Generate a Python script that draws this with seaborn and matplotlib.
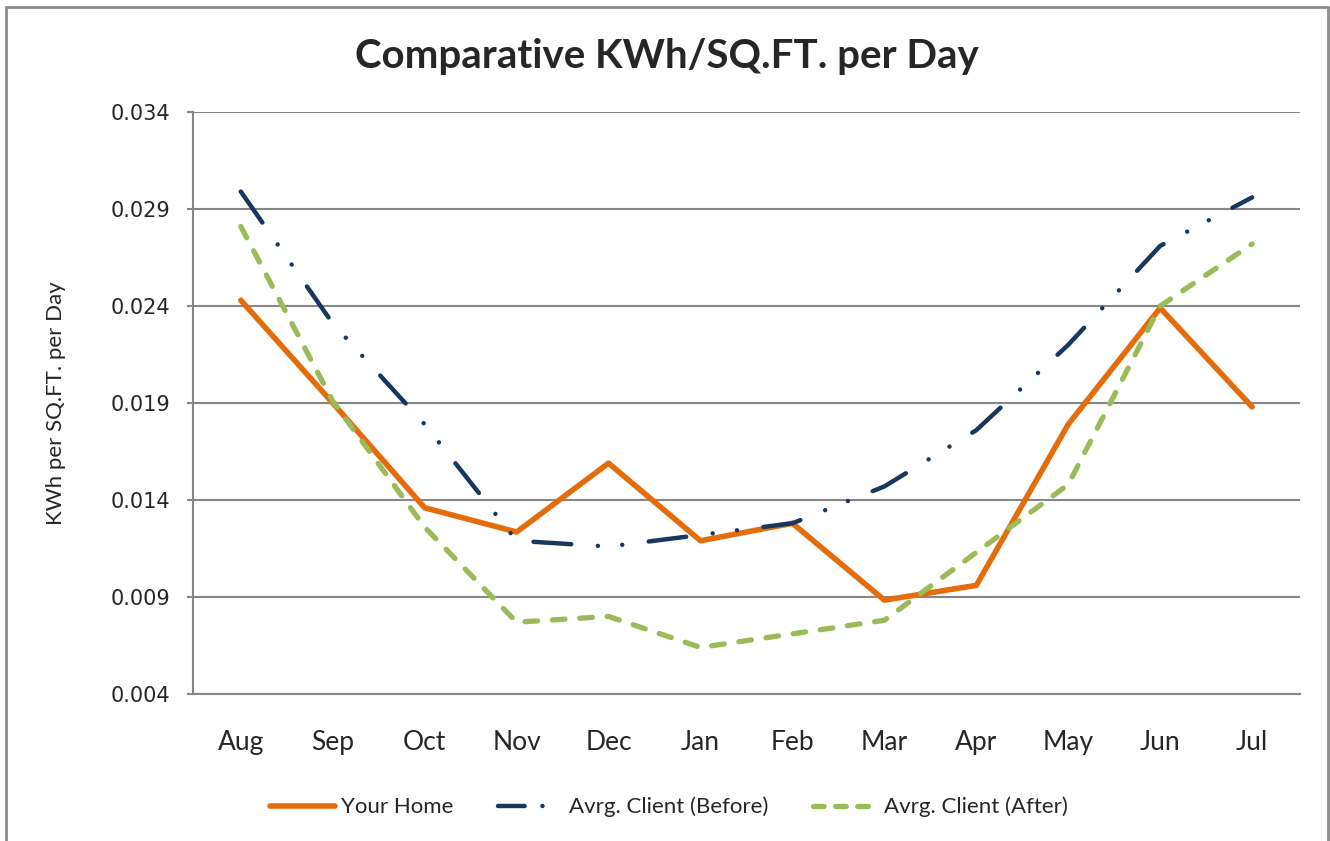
import matplotlib
matplotlib.use('Agg')
import matplotlib.pyplot as plt
import seaborn as sns
import pandas as pd
from matplotlib.lines import Line2D

# Données
mois = ['Aug', 'Sep', 'Oct', 'Nov', 'Dec', 'Jan', 'Feb', 'Mar', 'Apr', 'May', 'Jun', 'Jul']
your_home = [0.0243, 0.0190, 0.0136, 0.01235, 0.0159, 0.0119, 0.0128, 0.00884, 0.0096, 0.0179, 0.0239, 0.0188]
client_before = [0.0299, 0.0231, 0.0179, 0.0119, 0.0116, 0.0122, 0.0128, 0.0147, 0.0176, 0.0220, 0.0271, 0.0296]
client_after = [0.0281, 0.0191, 0.0126, 0.0077, 0.0080, 0.0064, 0.0071, 0.0078, 0.0113, 0.0148, 0.0240, 0.0272]
yticks = [0.004, 0.009, 0.014, 0.019, 0.024, 0.029, 0.034]

orange = '#E46C0A'
navy = '#17375E'
vert = '#9BBB59'
style_before = (0, (8.5, 6, 0.01, 5.5, 0.01, 6))
style_after = (0, (2.4, 2.8))

sns.set_style('white')
plt.rcParams['font.family'] = ['Lato', 'DejaVu Sans']

fig = plt.figure(figsize=(13.3, 8.41), dpi=100)
ax = fig.add_axes([0.1451, 0.1748, 0.8323, 0.6920])

df = pd.DataFrame({'mois': mois, 'home': your_home, 'before': client_before, 'after': client_after})
x = list(range(len(mois)))

sns.lineplot(x=x, y=df['home'], ax=ax, color=orange, lw=4.0, sort=False,
             solid_capstyle='round', label='Your Home')
sns.lineplot(x=x, y=df['before'], ax=ax, color=navy, lw=3.2, sort=False,
             label='Avrg. Client (Before)')
sns.lineplot(x=x, y=df['after'], ax=ax, color=vert, lw=3.8, sort=False,
             label='Avrg. Client (After)')

lines = ax.get_lines()
lines[1].set_linestyle(style_before)
lines[1].set_dash_capstyle('round')
lines[2].set_linestyle(style_after)
lines[2].set_dash_capstyle('round')

ax.set_xlim(-0.52, 11.52)
ax.set_ylim(0.004, 0.034)
ax.set_xticks(x)
ax.set_xticklabels(mois, fontsize=19)
ax.set_yticks(yticks)
ax.set_yticklabels([f'{v:.3f}' for v in yticks], fontsize=15, family='DejaVu Sans')
ax.tick_params(axis='x', length=0, pad=26)
ax.tick_params(axis='y', length=4, width=1.5, color='#868686', left=True, pad=12.5)
ax.grid(axis='y', color='#868686', lw=1.5)
ax.set_axisbelow(True)
for s in ['top', 'right']:
    ax.spines[s].set_visible(False)
for s in ['left', 'bottom']:
    ax.spines[s].set_color('#868686')
    ax.spines[s].set_linewidth(1.5)

ax.set_xlabel('')
ax.set_ylabel('KWh per SQ.FT. per Day', fontsize=16, labelpad=32)
fig.text(0.5015, 0.933, 'Comparative KWh/SQ.FT. per Day', ha='center', va='center',
         fontsize=29, fontweight='bold')

ax.get_legend().remove()
handles = [
    Line2D([], [], color=orange, lw=4.0),
    Line2D([], [], color=navy, lw=3.2, linestyle=(0, (6, 4, 0.01, 6)), dash_capstyle='round'),
    Line2D([], [], color=vert, lw=3.8, linestyle=(0, (2.0, 2.2)), dash_capstyle='round'),
]
fig.legend(handles, ['Your Home', 'Avrg. Client (Before)', 'Avrg. Client (After)'],
           loc='center', bbox_to_anchor=(0.503, 0.0404), ncol=3, frameon=False,
           fontsize=16, handlelength=2.9, handletextpad=0.3, columnspacing=2.0)

# cadre du graphique
kw = dict(color='#8c8c8c', lw=2, transform=fig.transFigure, clip_on=False)
fig.add_artist(Line2D([6 / 1330, 6 / 1330], [0, 1 - 7 / 841], **kw))
fig.add_artist(Line2D([6 / 1330, 1328 / 1330], [1 - 7 / 841, 1 - 7 / 841], **kw))
fig.add_artist(Line2D([1328 / 1330, 1328 / 1330], [0, 1 - 7 / 841], **kw))

fig.savefig('out.png', dpi=100)
